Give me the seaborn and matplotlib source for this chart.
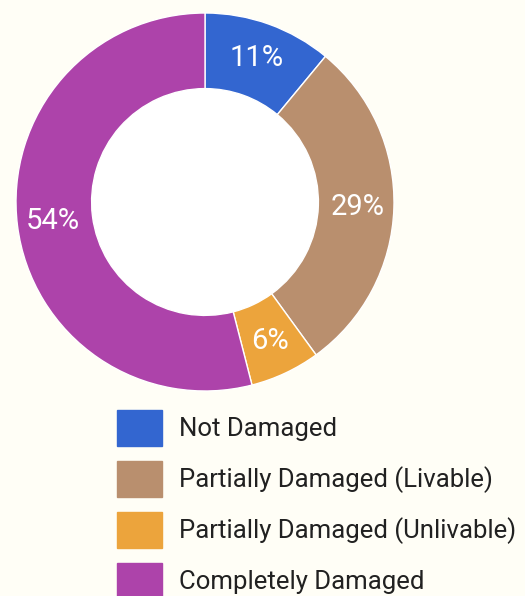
import matplotlib
matplotlib.use("Agg")
import matplotlib.pyplot as plt
import matplotlib.patches as mpatches
import seaborn as sns

# Data
categories = ["Not Damaged", "Partially Damaged (Livable)",
              "Partially Damaged (Unlivable)", "Completely Damaged"]
shares = [11, 29, 6, 54]
colors = ["#3366d0", "#b98f6e", "#eca43c", "#ad43aa"]

bg = "#fffef6"
sns.set_theme(style="white", rc={"figure.facecolor": bg, "axes.facecolor": bg})
plt.rcParams["font.family"] = ["Roboto", "DejaVu Sans"]

W, H = 525, 596
fig = plt.figure(figsize=(W / 100, H / 100), dpi=100)

# donut: centre (205, 202), radius 189 px
cx, cy, r = 205, 202, 189
ax = fig.add_axes([(cx - r) / W, 1 - (cy + r) / H, 2 * r / W, 2 * r / H])
wedges, _, autotexts = ax.pie(
    shares, colors=colors, startangle=90, counterclock=False,
    autopct="%.0f%%", pctdistance=0.81,
    wedgeprops=dict(width=0.4, edgecolor="white", linewidth=1),
    textprops=dict(color="white", fontsize=21),
)
ax.add_patch(mpatches.Circle((0, 0), 0.6, color="white", zorder=0))
ax.set_xlim(-1, 1)
ax.set_ylim(-1, 1)
ax.set_aspect("equal")
ax.axis("off")

# legend
handles = [mpatches.Patch(color=c, label=l) for c, l in zip(colors, categories)]
fig.legend(handles=handles, loc="upper left",
           bbox_to_anchor=(117 / W, 1 - 410 / H), frameon=False,
           prop=dict(family=["Roboto", "DejaVu Sans"], size=18.5),
           handlelength=1.75, handleheight=1.78,
           handletextpad=0.66, labelspacing=0.58, borderpad=0,
           borderaxespad=0, labelcolor="#212121")

fig.savefig("out.png", dpi=100, facecolor=bg)
